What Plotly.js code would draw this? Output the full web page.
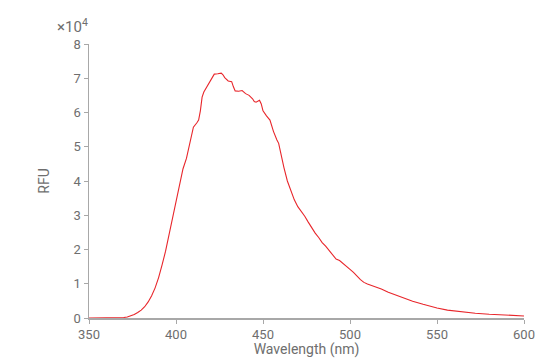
<!DOCTYPE html>
<html>
<head>
<meta charset="utf-8">
<script src="https://cdn.plot.ly/plotly-3.0.1.min.js"></script>
<style>html,body{margin:0;padding:0;background:#fff;}#chart{width:560px;height:358px;}</style>
</head>
<body>
<div id="chart"></div>
<script>
// Wavelength (nm)
const wavelength = [350,355,360,365,368,370,372,374,376,378,380,382,384,386,388,390,391,392,394,395,396,398,400,402,404,406,408,410,412,413,414,415,416,418,420,422,424,426,427,428,430,432,433,434,436,438,440,442,444,445,446,448,449,450,452,454,456,457,458,459,460,462,464,466,468,470,472,474,476,478,480,482,484,486,488,490,492,494,496,498,500,502,504,506,508,510,514,518,522,526,530,536,542,550,556,564,572,580,590,600];
// RFU (units of 10^4)
const rfuE4 = [0,0,0.002,0.005,0.01,0.015,0.03,0.06,0.10,0.16,0.23,0.33,0.47,0.65,0.88,1.18,1.35,1.55,1.95,2.2,2.45,2.95,3.45,3.95,4.35,4.66,5.1,5.57,5.7,5.78,6.05,6.45,6.6,6.78,6.95,7.12,7.13,7.15,7.1,7.02,6.92,6.9,6.75,6.63,6.62,6.64,6.55,6.5,6.4,6.32,6.3,6.36,6.25,6.05,5.9,5.78,5.45,5.3,5.2,5.1,4.85,4.4,4.0,3.7,3.45,3.25,3.12,2.97,2.8,2.63,2.48,2.35,2.2,2.1,1.98,1.85,1.72,1.68,1.6,1.5,1.42,1.33,1.22,1.12,1.04,0.99,0.92,0.85,0.75,0.67,0.59,0.49,0.40,0.29,0.23,0.18,0.14,0.11,0.08,0.06];
const xTicks = [350,400,450,500,550,600];
const yTicks = [0,1,2,3,4,5,6,7,8];

const fontFam = 'Roboto, "Noto Sans", sans-serif';
const grey = '#6e6e6e';

Plotly.newPlot('chart', [{
  x: wavelength,
  y: rfuE4,
  type: 'scatter',
  mode: 'lines',
  line: {color: '#e8262b', width: 1.1},
  hoverinfo: 'skip'
}], {
  width: 560, height: 358,
  margin: {l: 89, r: 36, t: 44, b: 40},
  paper_bgcolor: '#fff', plot_bgcolor: '#fff',
  showlegend: false,
  font: {family: fontFam, color: grey, size: 13},
  xaxis: {
    range: [350, 600], tickvals: xTicks, ticktext: xTicks.map(String),
    showgrid: false, zeroline: false, showline: true, linecolor: '#a8a8a8', linewidth: 1.5,
    ticks: 'outside', ticklen: 4, tickcolor: '#a8a8a8',
    tickfont: {family: fontFam, color: grey, size: 13},
    title: {text: 'Wavelength (nm)', font: {family: fontFam, color: grey, size: 14}, standoff: 3}
  },
  yaxis: {
    range: [0, 8], tickvals: yTicks, ticktext: yTicks.map(String),
    showgrid: false, zeroline: false, showline: true, linecolor: '#a8a8a8', linewidth: 1.5,
    ticks: 'outside', ticklen: 4, tickcolor: '#a8a8a8',
    tickfont: {family: fontFam, color: grey, size: 13},
    title: {text: 'RFU', font: {family: fontFam, color: grey, size: 14}, standoff: 20}
  },
  annotations: [{
    xref: 'paper', yref: 'paper', x: 0, y: 1, xanchor: 'right', yanchor: 'bottom',
    xshift: 1, yshift: 6, showarrow: false,
    text: '×10<sup>4</sup>', font: {family: fontFam, color: grey, size: 15}
  }]
}, {displayModeBar: false, staticPlot: true});
</script>
</body>
</html>
